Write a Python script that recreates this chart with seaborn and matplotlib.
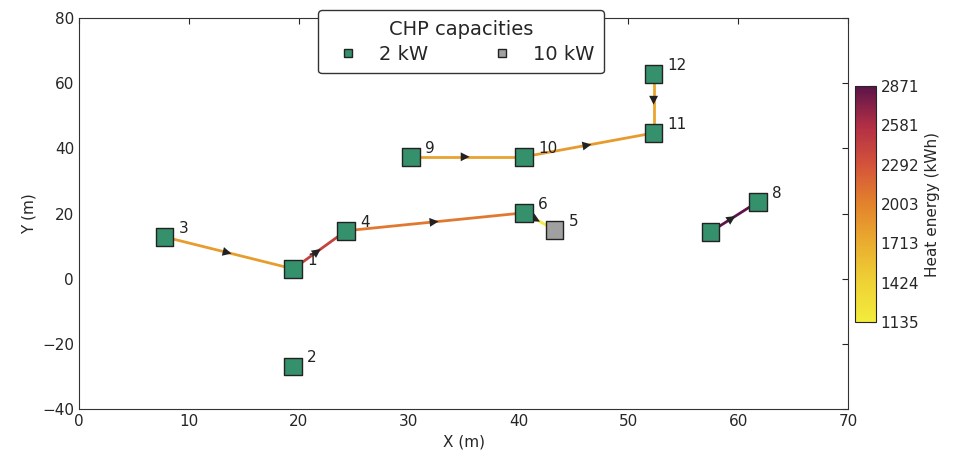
import numpy as np
import pandas as pd
import seaborn as sns
import matplotlib.pyplot as plt
from matplotlib.collections import LineCollection
from matplotlib.colors import LinearSegmentedColormap, Normalize

# nodes (CHP units)
node_ids = [1, 2, 3, 4, 5, 6, 7, 8, 9, 10, 11, 12]
node_x = [19.5, 19.5, 7.8, 24.3, 43.3, 40.5, 57.5, 61.8, 30.2, 40.5, 52.3, 52.3]
node_y = [3.0, -27.0, 12.8, 14.7, 15.0, 20.2, 14.4, 23.6, 37.4, 37.4, 44.7, 62.8]
node_cap = ['2 kW', '2 kW', '2 kW', '2 kW', '10 kW', '2 kW', '2 kW', '2 kW', '2 kW', '2 kW', '2 kW', '2 kW']
node_label = ['1', '2', '3', '4', '5', '6', '', '8', '9', '10', '11', '12']

# pipes: from -> to, heat energy (kWh)
edge_from = [3, 1, 4, 6, 9, 10, 12, 7]
edge_to = [1, 4, 6, 5, 10, 11, 11, 8]
edge_heat = [1820, 2420, 2060, 1135, 1790, 1840, 1760, 2871]

heat_min, heat_max = 1135, 2871

cmap = LinearSegmentedColormap.from_list(
    'heat', ['#f3ec3c', '#efd236', '#eaad2f', '#e3832c', '#d4533a', '#b12f45', '#5c1449'])
norm = Normalize(heat_min, heat_max)

nodes = pd.DataFrame({'x': node_x, 'y': node_y, 'cap': node_cap}, index=node_ids)

sns.set_style('white')
plt.rcParams['font.family'] = ['DejaVu Sans']

fig = plt.figure(figsize=(9.55, 4.51), dpi=100)
ax = fig.add_axes([0.0827, 0.0931, 0.8053, 0.867])
cax = fig.add_axes([0.895, 0.286, 0.022, 0.523])

segs = [[(nodes.loc[a, 'x'], nodes.loc[a, 'y']), (nodes.loc[b, 'x'], nodes.loc[b, 'y'])]
        for a, b in zip(edge_from, edge_to)]
lc = LineCollection(segs, cmap=cmap, norm=norm, linewidths=2, zorder=1)
lc.set_array(np.array(edge_heat))
ax.add_collection(lc)

# flow direction arrows at the middle of each pipe
for a, b in zip(edge_from, edge_to):
    x0, y0 = nodes.loc[a, 'x'], nodes.loc[a, 'y']
    x1, y1 = nodes.loc[b, 'x'], nodes.loc[b, 'y']
    mx, my = (x0 + x1) / 2, (y0 + y1) / 2
    ax.annotate('', xy=(mx + (x1 - x0) * 0.02, my + (y1 - y0) * 0.02), xytext=(mx, my),
                arrowprops=dict(arrowstyle='-|>', color='#222222', lw=0, mutation_scale=16),
                zorder=2)

sns.scatterplot(data=nodes, x='x', y='y', hue='cap', hue_order=['2 kW', '10 kW'],
                palette={'2 kW': '#35906c', '10 kW': '#a0a0a0'}, marker='s', s=160,
                edgecolor='#222222', linewidth=1, ax=ax, zorder=3)

for lab, x, y in zip(node_label, node_x, node_y):
    if lab:
        ax.annotate(lab, (x, y), xytext=(10, 3), textcoords='offset points',
                    fontsize=11, color='#222222')

ax.set_xlim(0, 70)
ax.set_ylim(-40, 80)
ax.set_xlabel('X (m)', fontsize=11)
ax.set_ylabel('Y (m)', fontsize=11)
ax.tick_params(direction='in', top=True, right=True, labelsize=11, length=4)
for s in ax.spines.values():
    s.set_color('#333333')

leg = ax.legend(title='CHP capacities', loc='upper center', bbox_to_anchor=(0.497, 1.045),
                ncol=2, fontsize=14, title_fontsize=14, markerscale=0.5,
                columnspacing=2.8, handletextpad=0.6, borderpad=0.5, labelspacing=0.3,
                frameon=True, edgecolor='#333333', fancybox=True)
leg.get_frame().set_alpha(1)

cb = fig.colorbar(plt.cm.ScalarMappable(norm=norm, cmap=cmap), cax=cax)
ticks = np.linspace(heat_min, heat_max, 7)
cb.set_ticks(ticks)
cb.set_ticklabels([str(int(t)) for t in ticks])
cb.ax.tick_params(direction='in', labelsize=11, length=4)
cb.set_label('Heat energy (kWh)', fontsize=11)

fig.savefig('out.png', dpi=100)
